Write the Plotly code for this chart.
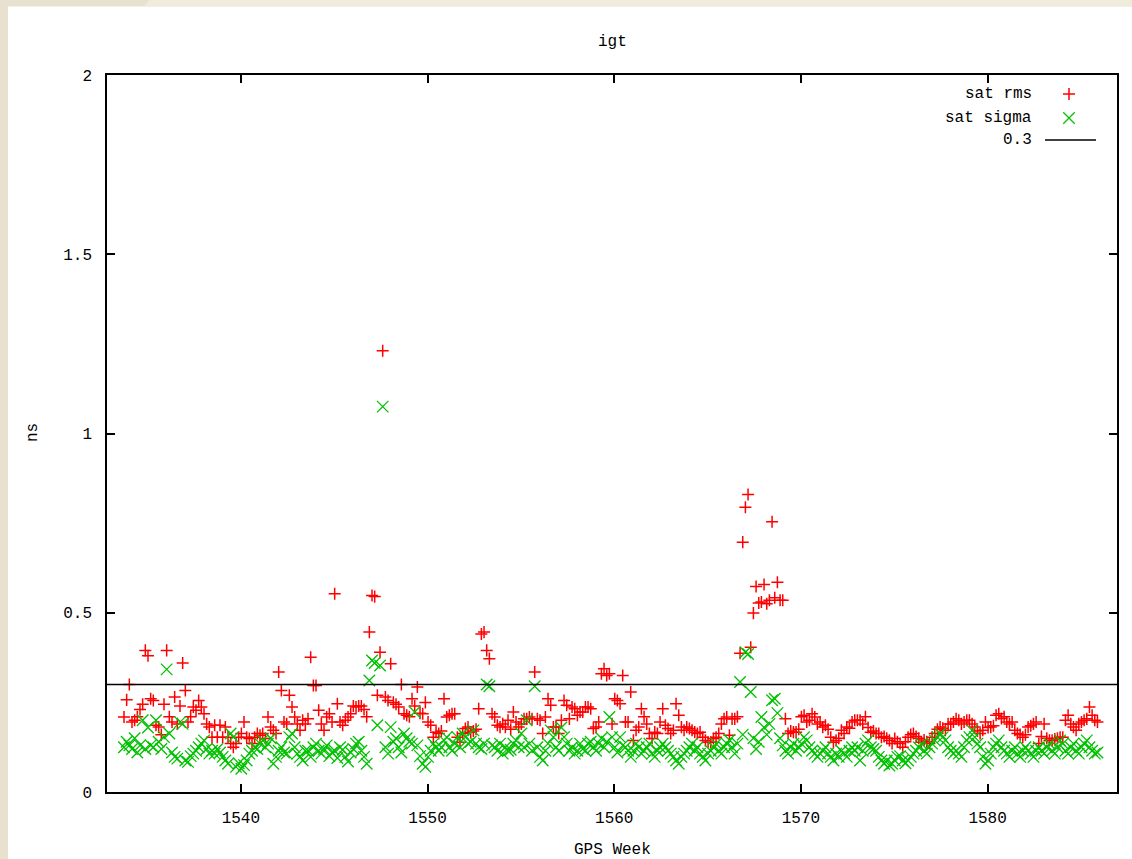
import numpy as np
import plotly.graph_objects as go

# ---------------- data ----------------
first_week = 1533.74          # GPS week of the first daily sample
days_per_week = 7
threshold = 0.3
x_ticks = [1540, 1550, 1560, 1570, 1580]
y_ticks = [0, 0.5, 1, 1.5, 2]
y_tick_labels = ["0", "0.5", "1", "1.5", "2"]

sat_rms = [
    0.209, 0.257, 0.30, 0.195, 0.20, 0.21, 0.23,
    0.245, 0.395, 0.38, 0.26, 0.255, 0.186, 0.181,
    0.16, 0.245, 0.395, 0.21, 0.195, 0.265, 0.19,
    0.24, 0.36, 0.283, 0.195, 0.21, 0.237, 0.228,
    0.255, 0.237, 0.218, 0.19, 0.181, 0.153, 0.186,
    0.153, 0.186, 0.153, 0.181, 0.153, 0.135, 0.125,
    0.135, 0.153, 0.163, 0.195, 0.153, 0.149, 0.135,
    0.153, 0.163, 0.158, 0.163, 0.149, 0.209, 0.181,
    0.172, 0.163, 0.335, 0.283, 0.195, 0.19, 0.27,
    0.237, 0.209, 0.19, 0.172, 0.2, 0.19, 0.204,
    0.376, 0.297, 0.297, 0.228, 0.19, 0.172, 0.209,
    0.218, 0.195, 0.553, 0.246, 0.195, 0.186, 0.2,
    0.209, 0.218, 0.24, 0.237, 0.24,
    0.24, 0.23, 0.21, 0.446, 0.548, 0.545, 0.27, 0.39, 1.231, 0.265,
    0.255, 0.358, 0.25, 0.245, 0.237, 0.30, 0.218, 0.214, 0.21, 0.26,
    0.24, 0.293, 0.22, 0.218, 0.25, 0.195, 0.186, 0.153, 0.167, 0.163,
    0.17, 0.26, 0.209, 0.214, 0.218, 0.218, 0.153, 0.139, 0.163, 0.177,
    0.181, 0.167, 0.17, 0.175, 0.232, 0.441, 0.446, 0.395, 0.372, 0.218,
    0.209, 0.186, 0.181, 0.19, 0.181, 0.2, 0.175, 0.223, 0.195, 0.181,
    0.19, 0.204, 0.204, 0.209, 0.204, 0.335, 0.204, 0.2, 0.163, 0.209,
    0.26, 0.242, 0.181, 0.181, 0.163, 0.2, 0.255, 0.242, 0.204, 0.237,
    0.232, 0.214, 0.223, 0.223, 0.237, 0.237, 0.232, 0.177, 0.181, 0.195,
    0.33, 0.344, 0.325, 0.33,
    0.19, 0.26, 0.255, 0.246, 0.325, 0.195, 0.195, 0.279,
    0.144, 0.172, 0.181, 0.232, 0.21, 0.19, 0.163, 0.149,
    0.167, 0.163, 0.195, 0.232, 0.186, 0.177, 0.163, 0.172,
    0.246, 0.214, 0.181, 0.172, 0.181, 0.177, 0.172, 0.167,
    0.163, 0.167, 0.153, 0.144, 0.139, 0.139, 0.149, 0.153,
    0.163, 0.19, 0.204, 0.209, 0.158, 0.204, 0.204, 0.21,
    0.387, 0.697, 0.794, 0.83, 0.404, 0.499, 0.573, 0.527, 0.53, 0.579,
    0.525, 0.535, 0.754, 0.542, 0.585, 0.535, 0.535,
    0.204, 0.163, 0.17, 0.167, 0.167, 0.175, 0.21, 0.214, 0.195, 0.2,
    0.218, 0.209, 0.19, 0.195, 0.181, 0.186, 0.175, 0.153, 0.139, 0.144,
    0.15, 0.172, 0.163, 0.181, 0.178, 0.195, 0.2,
    0.2,
    0.2, 0.19, 0.21, 0.18, 0.167, 0.17, 0.163, 0.163, 0.153, 0.155,
    0.15, 0.144, 0.135, 0.149, 0.14, 0.135, 0.125, 0.14, 0.153, 0.16,
    0.163, 0.155, 0.15, 0.139, 0.145, 0.14, 0.135, 0.153, 0.163, 0.175,
    0.181, 0.178, 0.172, 0.19, 0.19, 0.195, 0.204, 0.2, 0.19, 0.195,
    0.2, 0.2, 0.19, 0.181, 0.17, 0.163, 0.172, 0.195, 0.18, 0.181,
    0.185, 0.214, 0.218, 0.205, 0.21, 0.195, 0.19, 0.195, 0.172, 0.163,
    0.16, 0.153, 0.16, 0.181, 0.185, 0.19, 0.195, 0.135, 0.155, 0.19,
    0.15, 0.144, 0.144, 0.148, 0.15, 0.153, 0.153, 0.2, 0.214, 0.19,
    0.181, 0.172, 0.19, 0.195, 0.2, 0.204, 0.237, 0.214, 0.2, 0.195,
]

sat_sigma = [
    0.125, 0.14, 0.13, 0.12, 0.15, 0.11, 0.13, 0.2,
    0.12, 0.18, 0.13, 0.125, 0.2, 0.14, 0.12, 0.153,
    0.342,
    0.163, 0.11, 0.098, 0.093, 0.195, 0.19, 0.088,
    0.084, 0.1, 0.107, 0.115, 0.125, 0.135, 0.144, 0.12,
    0.107, 0.115, 0.107, 0.12, 0.11, 0.098, 0.088, 0.079,
    0.163, 0.153, 0.07, 0.08, 0.065, 0.075, 0.088, 0.107,
    0.115, 0.125, 0.12, 0.135, 0.144, 0.125, 0.135, 0.15,
    0.079, 0.098, 0.115, 0.125, 0.11, 0.107, 0.153, 0.163,
    0.125, 0.107, 0.098, 0.088, 0.115, 0.115, 0.098, 0.125,
    0.135, 0.115, 0.107, 0.12, 0.13, 0.1, 0.11, 0.115,
    0.095, 0.125, 0.118, 0.098, 0.085, 0.11, 0.12, 0.135, 0.14,
    0.115, 0.098, 0.079,
    0.311, 0.367, 0.36, 0.186, 0.353, 1.075,
    0.125, 0.107, 0.181, 0.14, 0.15, 0.125, 0.11,
    0.163, 0.15, 0.14, 0.135, 0.223, 0.13, 0.1,
    0.079, 0.07, 0.098, 0.115, 0.135, 0.125, 0.115,
    0.125, 0.144, 0.153, 0.125, 0.115, 0.135, 0.153,
    0.125, 0.163, 0.153, 0.135, 0.14, 0.172, 0.135, 0.125,
    0.12, 0.135, 0.30, 0.295,
    0.13, 0.125, 0.115, 0.135, 0.107, 0.125, 0.115,
    0.118, 0.135, 0.144, 0.125, 0.163, 0.125, 0.2, 0.135, 0.115,
    0.295,
    0.125, 0.098, 0.088, 0.115, 0.135, 0.172, 0.153, 0.125,
    0.115, 0.18, 0.153, 0.135, 0.115, 0.125, 0.107, 0.115,
    0.135, 0.12, 0.115, 0.135, 0.14, 0.125, 0.115, 0.135,
    0.15, 0.125, 0.14, 0.209,
    0.153, 0.125, 0.11, 0.153, 0.13, 0.125, 0.115, 0.098,
    0.115, 0.135, 0.125, 0.107, 0.115, 0.125, 0.135, 0.107,
    0.098, 0.115, 0.125, 0.135, 0.125, 0.115, 0.107, 0.098,
    0.088, 0.079, 0.098, 0.107, 0.115, 0.125, 0.135, 0.115,
    0.125, 0.107, 0.098, 0.088, 0.107, 0.115, 0.125, 0.135,
    0.115, 0.107, 0.125, 0.135, 0.145, 0.125, 0.107, 0.135,
    0.307, 0.16, 0.39, 0.385, 0.279, 0.15, 0.12, 0.14, 0.209, 0.18,
    0.16, 0.19, 0.256, 0.26, 0.22, 0.15, 0.13,
    0.115, 0.107, 0.125, 0.135, 0.115, 0.125, 0.135, 0.153, 0.144, 0.125,
    0.115, 0.107, 0.098, 0.107, 0.115, 0.125, 0.107, 0.098, 0.088, 0.107,
    0.098, 0.115, 0.107, 0.098, 0.115, 0.125, 0.115,
    0.125, 0.088, 0.115, 0.135, 0.144, 0.125, 0.12, 0.115,
    0.098, 0.088, 0.079, 0.088, 0.074, 0.079, 0.088, 0.098,
    0.1, 0.088, 0.08, 0.088, 0.098, 0.107, 0.115, 0.125,
    0.135, 0.115, 0.107, 0.125, 0.135, 0.144, 0.153, 0.163,
    0.153, 0.144, 0.125, 0.115, 0.107, 0.115, 0.107, 0.098,
    0.125, 0.144, 0.153, 0.172, 0.153, 0.135, 0.125, 0.098,
    0.079, 0.088, 0.107, 0.125, 0.135, 0.144, 0.125, 0.115,
    0.107, 0.098, 0.115, 0.125, 0.107, 0.098, 0.115, 0.125,
    0.115, 0.107, 0.098, 0.115, 0.125, 0.115, 0.107, 0.125,
    0.135, 0.115, 0.107, 0.125, 0.144, 0.135, 0.115, 0.107,
    0.125, 0.135, 0.115, 0.107, 0.125, 0.135, 0.144, 0.125, 0.115, 0.107, 0.11,
]

x_range = [1532.83, 1586.93]

# ---------------- figure ----------------
W, H = 1132, 859
ML, MR, MT, MB = 107, 15, 75, 67
PW, PH = W - ML - MR, H - MT - MB


def px(xp):
    return (xp - ML) / PW


def py(yp):
    return (H - MB - yp) / PH


weeks_rms = first_week + np.arange(len(sat_rms)) / days_per_week
weeks_sig = first_week + np.arange(len(sat_sigma)) / days_per_week

FONT = "Liberation Mono"
RED = "#ff0000"
GREEN = "#00c000"

fig = go.Figure()
fig.add_trace(go.Scatter(
    x=weeks_rms, y=sat_rms, mode="markers", name="sat rms",
    marker=dict(symbol="cross-thin", size=8.6, color=RED,
                line=dict(color=RED, width=1.5)),
    showlegend=False))
fig.add_trace(go.Scatter(
    x=weeks_sig, y=sat_sigma, mode="markers", name="sat sigma",
    marker=dict(symbol="x-thin", size=11.5, color=GREEN,
                line=dict(color=GREEN, width=1.3)),
    showlegend=False))
fig.add_trace(go.Scatter(
    x=x_range, y=[threshold, threshold], mode="lines", name="0.3",
    line=dict(color="black", width=1.5), showlegend=False))

# legend keys (drawn on a hidden 0..1 overlay axis)
fig.add_trace(go.Scatter(
    x=[px(1069)], y=[py(94)], mode="markers", xaxis="x2", yaxis="y2",
    marker=dict(symbol="cross-thin", size=8.6, color=RED,
                line=dict(color=RED, width=1.5)),
    showlegend=False, cliponaxis=False, hoverinfo="skip"))
fig.add_trace(go.Scatter(
    x=[px(1069)], y=[py(118)], mode="markers", xaxis="x2", yaxis="y2",
    marker=dict(symbol="x-thin", size=11.5, color=GREEN,
                line=dict(color=GREEN, width=1.3)),
    showlegend=False, cliponaxis=False, hoverinfo="skip"))
fig.add_trace(go.Scatter(
    x=[px(1045), px(1096)], y=[py(140), py(140)], mode="lines",
    xaxis="x2", yaxis="y2", line=dict(color="black", width=1.5),
    showlegend=False, cliponaxis=False, hoverinfo="skip"))

txt_font = dict(family=FONT, size=16, color="black")
annotations = [
    dict(text="igt", x=0.5, y=py(42), xref="paper", yref="paper",
         xanchor="center", yanchor="middle", showarrow=False, font=txt_font),
    dict(text="GPS Week", x=0.5, y=py(850), xref="paper", yref="paper",
         xanchor="center", yanchor="middle", showarrow=False, font=txt_font),
    dict(text="ns", x=px(33), y=py(433), xref="paper", yref="paper",
         xanchor="center", yanchor="middle", showarrow=False,
         textangle=-90, font=txt_font),
]
for label, yy in [("sat rms", 94), ("sat sigma", 118), ("0.3", 140)]:
    annotations.append(dict(
        text=label, x=px(1034), y=py(yy), xref="paper", yref="paper",
        xanchor="right", yanchor="middle", showarrow=False, font=txt_font))

axis_common = dict(
    showline=True, linecolor="black", linewidth=1.5, mirror="ticks",
    ticks="inside", ticklen=8, tickwidth=1.5, tickcolor="black",
    showgrid=False, zeroline=False,
    tickfont=dict(family=FONT, size=16, color="black"),
)

fig.update_layout(
    width=W, height=H,
    margin=dict(l=ML, r=MR, t=MT, b=MB, pad=0),
    paper_bgcolor="#e8e1cf",
    plot_bgcolor="white",
    showlegend=False,
    xaxis=dict(range=x_range, tickvals=x_ticks, ticklabelstandoff=10,
               **axis_common),
    yaxis=dict(range=[0, 2], tickvals=y_ticks, ticktext=y_tick_labels,
               ticklabelstandoff=10, **axis_common),
    xaxis2=dict(overlaying="x", range=[0, 1], visible=False),
    yaxis2=dict(overlaying="y", range=[0, 1], visible=False),
    annotations=annotations,
    shapes=[
        dict(type="rect", xref="paper", yref="paper", layer="below",
             x0=px(8), x1=px(W + 2), y0=py(H + 2), y1=py(6.5),
             fillcolor="white", line=dict(width=0)),
        dict(type="path", xref="paper", yref="paper", layer="below",
             path=f"M {px(144)},{py(6.5)} L {px(150)},{py(-1)} L {px(W + 2)},{py(-1)} L {px(W + 2)},{py(6.5)} Z",
             fillcolor="#f0ecdc", line=dict(width=0)),
    ],
)

fig.write_html(
    "out.html",
    config={"displayModeBar": False},
    post_script="document.body.style.margin='0';document.body.style.padding='0';",
)
